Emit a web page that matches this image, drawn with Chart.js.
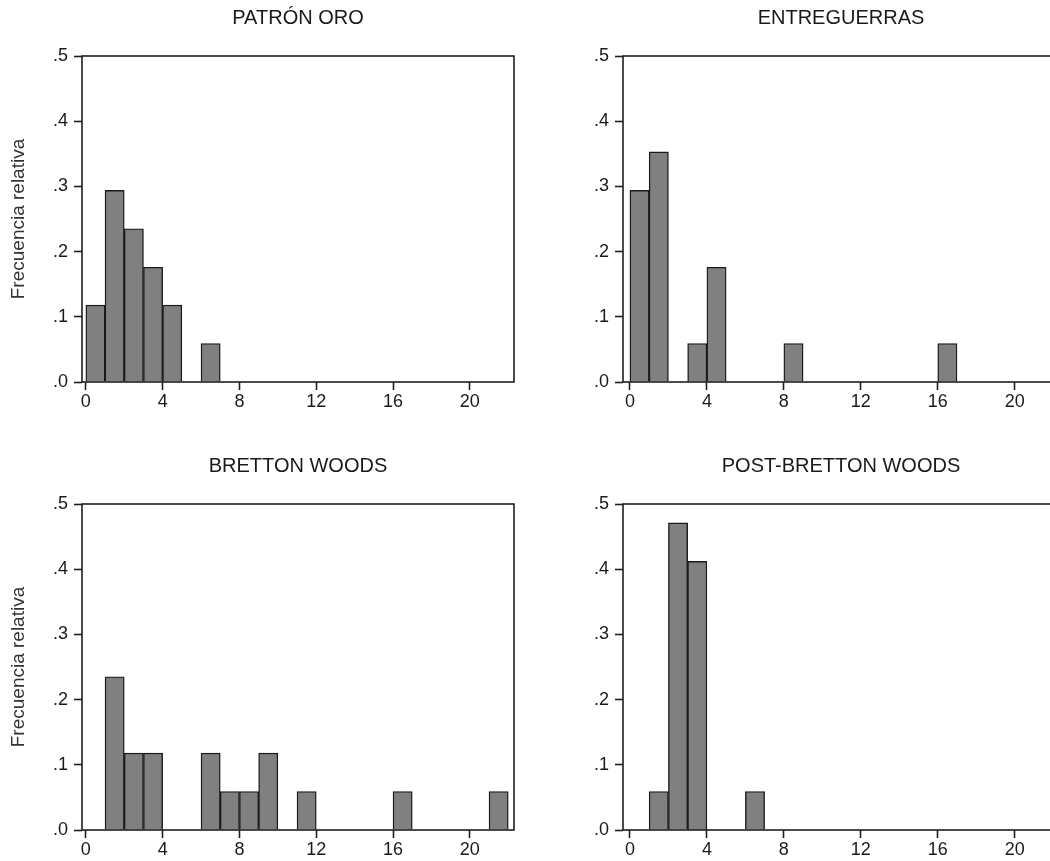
<!DOCTYPE html>
<html>
<head>
<meta charset="utf-8">
<script src="https://cdn.jsdelivr.net/npm/chart.js@4.4.1/dist/chart.umd.min.js"></script>
<style>
  html, body { margin: 0; padding: 0; background: #fff; }
  #wrap { position: relative; width: 1050px; height: 861px; overflow: hidden; }
  canvas { position: absolute; }
</style>
</head>
<body>
<div id="wrap">
  <canvas id="c1" width="540" height="420" style="left:0;top:0"></canvas>
  <canvas id="c2" width="520" height="420" style="left:560px;top:0"></canvas>
  <canvas id="c3" width="540" height="420" style="left:0;top:448px"></canvas>
  <canvas id="c4" width="520" height="420" style="left:560px;top:448px"></canvas>
</div>
<script>
// limite inferior de cada intervalo (ancho 1)
const binStarts = [0, 1, 2, 3, 4, 5, 6, 7, 8, 9, 10, 11, 12, 13, 14, 15, 16, 17, 18, 19, 20, 21];

// frecuencias relativas
const patronOro    = [0.118, 0.294, 0.235, 0.176, 0.118, 0, 0.059, 0, 0, 0, 0, 0, 0, 0, 0, 0, 0, 0, 0, 0, 0, 0];
const entreguerras = [0.294, 0.353, 0, 0.059, 0.176, 0, 0, 0, 0.059, 0, 0, 0, 0, 0, 0, 0, 0.059, 0, 0, 0, 0, 0];
const brettonWoods = [0, 0.235, 0.118, 0.118, 0, 0, 0.118, 0.059, 0.059, 0.118, 0, 0.059, 0, 0, 0, 0, 0.059, 0, 0, 0, 0, 0.059];
const postBretton  = [0, 0.059, 0.471, 0.412, 0, 0, 0.059, 0, 0, 0, 0, 0, 0, 0, 0, 0, 0, 0, 0, 0, 0, 0];

const xTicks = [0, 4, 8, 12, 16, 20];
const yTicks = [0, 0.1, 0.2, 0.3, 0.4, 0.5];
const yTickLabels = ['.0', '.1', '.2', '.3', '.4', '.5'];

const FONT = 'Arial, "Liberation Sans", sans-serif';

// marco completo alrededor del area de trazado
const marco = {
    id: 'marco',
    afterDatasetsDraw(chart) {
        const { ctx, chartArea: a } = chart;
        ctx.save();
        ctx.strokeStyle = '#1e1e1e';
        ctx.lineWidth = 1.6;
        ctx.strokeRect(a.left, a.top, a.right - a.left, a.bottom - a.top);
        ctx.restore();
    }
};

function histograma(id, titulo, valores, conTituloY, yWidth, xMin, padRight) {
    const puntos = [];
    valores.forEach((v, i) => {
        if (v > 0) puntos.push({ x: binStarts[i] + 0.5, y: v });
    });

    return new Chart(document.getElementById(id), {
        type: 'bar',
        data: {
            datasets: [{
                data: puntos,
                backgroundColor: '#808080',
                borderColor: '#1a1a1a',
                borderWidth: 1.4,
                barPercentage: 1,
                categoryPercentage: 1
            }]
        },
        options: {
            responsive: false,
            animation: false,
            layout: { padding: { right: padRight, left: 0, top: 0, bottom: 0 } },
            plugins: {
                legend: { display: false },
                tooltip: { enabled: false },
                title: {
                    display: true,
                    text: titulo,
                    fullSize: false,
                    color: '#1a1a1a',
                    font: { family: FONT, size: 20, weight: 'normal' },
                    padding: { top: 6, bottom: 26 }
                }
            },
            scales: {
                x: {
                    type: 'linear',
                    offset: false,
                    min: xMin,
                    max: 22.3,
                    afterBuildTicks: s => { s.ticks = xTicks.map(v => ({ value: v })); },
                    afterFit: s => { s.height = 38; },
                    grid: { display: true, offset: false, drawOnChartArea: false, drawTicks: true, tickLength: 8, tickColor: '#1e1e1e', tickWidth: 1.6 },
                    border: { display: false },
                    ticks: { color: '#1a1a1a', font: { family: FONT, size: 18 }, padding: 1, maxRotation: 0 }
                },
                y: {
                    min: 0,
                    max: 0.5,
                    afterBuildTicks: s => { s.ticks = yTicks.map(v => ({ value: v })); },
                    afterFit: s => { s.width = yWidth; },
                    grid: { display: true, drawOnChartArea: false, drawTicks: true, tickLength: 8, tickColor: '#1e1e1e', tickWidth: 1.6 },
                    border: { display: false },
                    ticks: {
                        color: '#1a1a1a',
                        font: { family: FONT, size: 18 },
                        padding: 6,
                        callback: (v, i) => yTickLabels[i]
                    },
                    title: {
                        display: conTituloY,
                        text: 'Frecuencia relativa',
                        color: '#333',
                        font: { family: FONT, size: 19 },
                        padding: { top: 7, bottom: 0 }
                    }
                }
            }
        },
        plugins: [marco]
    });
}

histograma('c1', 'PATRÓN ORO', patronOro, true, 82, -0.2, 26);
histograma('c2', 'ENTREGUERRAS', entreguerras, false, 63, -0.36, 21);
histograma('c3', 'BRETTON WOODS', brettonWoods, true, 82, -0.2, 26);
histograma('c4', 'POST-BRETTON WOODS', postBretton, false, 63, -0.36, 21);
</script>
</body>
</html>
